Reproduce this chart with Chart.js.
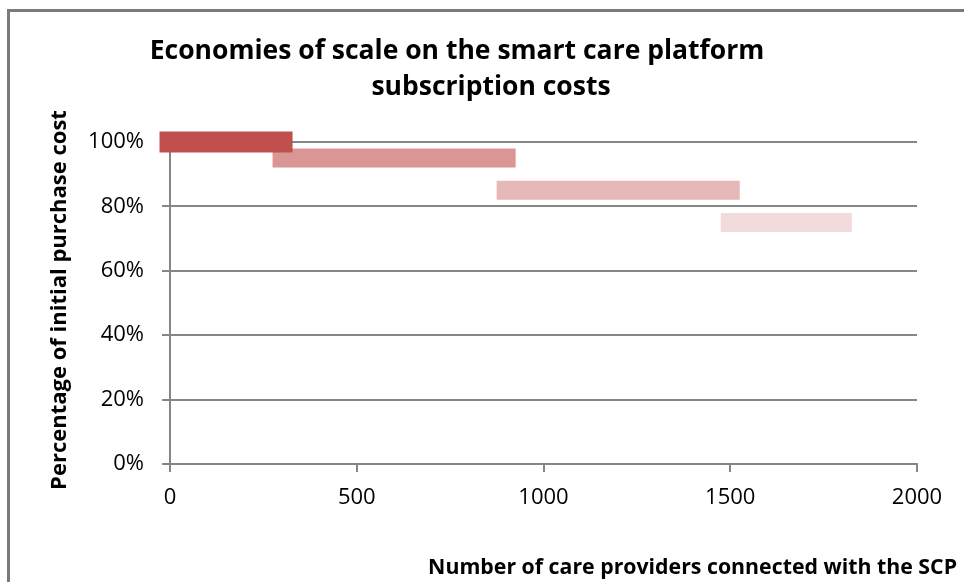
<!DOCTYPE html>
<html>
<head>
<meta charset="utf-8">
<script src="https://cdn.jsdelivr.net/npm/chart.js@4"></script>
<style>
html,body{margin:0;padding:0;background:#fff;}
#wrap{position:relative;width:964px;height:582px;}
#frame{position:absolute;left:7px;top:9px;right:-10px;bottom:-10px;border-left:3px solid #7a7a7a;border-top:3px solid #7a7a7a;pointer-events:none;}
</style>
</head>
<body>
<div id="wrap">
<canvas id="c" width="964" height="582"></canvas>
<div id="frame"></div>
</div>
<script>
// subscription cost tiers
const tierStart = [0, 300, 900, 1500];
const tierEnd = [300, 900, 1500, 1800];
const tierCost = [100, 95, 85, 75];
const tierColors = ["#C0504D", "#D99694", "#E6B9B8", "#F2DCDB"];
const tierWidth = [21, 19, 19, 19];

const FONT = "'Open Sans', sans-serif";

const datasets = tierStart.map(function(s, i){
return {
label: "Tier " + (i + 1),
data: [{x: s, y: tierCost[i]}, {x: tierEnd[i], y: tierCost[i]}],
borderColor: tierColors[i],
backgroundColor: tierColors[i],
borderWidth: tierWidth[i],
borderCapStyle: "square",
pointRadius: 0,
showLine: true,
clip: false
};
});

// titles drawn at fixed spots
const textPlugin = {
id: "texts",
afterDraw: function(chart){
const ctx = chart.ctx;
ctx.save();
ctx.fillStyle = "#000";
ctx.textBaseline = "alphabetic";
ctx.font = "bold 26.5px " + FONT;
ctx.textAlign = "center";
ctx.fillText("Economies of scale on the smart care platform", 457, 59);
ctx.fillText("subscription costs", 491, 95);
ctx.font = "bold 21.3px " + FONT;
ctx.textAlign = "right";
ctx.fillText("Number of care providers connected with the SCP", 957, 574);
ctx.translate(66, 300);
ctx.rotate(-Math.PI / 2);
ctx.textAlign = "center";
ctx.font = "bold 22px " + FONT;
ctx.fillText("Percentage of initial purchase cost", 0, 0);
ctx.restore();
}
};

new Chart(
document.getElementById("c"),
{
type: "scatter",
data: {datasets: datasets},
plugins: [textPlugin],
options: {
responsive: false,
animation: false,
layout: {padding: {left: 0, top: 142, right: 47, bottom: 0}},
plugins: {legend: {display: false}, tooltip: {enabled: false}},
scales: {
x: {
type: "linear",
min: 0,
max: 2000,
afterFit: function(s){ s.height = 118; },
ticks: {stepSize: 500, color: "#000", padding: 13, font: {family: FONT, size: 22},
callback: function(v){ return String(v); }},
grid: {drawOnChartArea: false, drawTicks: true, tickLength: 8, color: "#868686", lineWidth: 2},
border: {color: "#868686", width: 2}
},
y: {
min: 0,
max: 100,
afterFit: function(s){ s.width = 170; },
ticks: {stepSize: 20, color: "#000", padding: 18, font: {family: FONT, size: 22},
callback: function(v){ return v + "%"; }},
grid: {color: "#868686", lineWidth: 2, tickLength: 8},
border: {color: "#868686", width: 2}
}
}
}
}
);
</script>
</body>
</html>
